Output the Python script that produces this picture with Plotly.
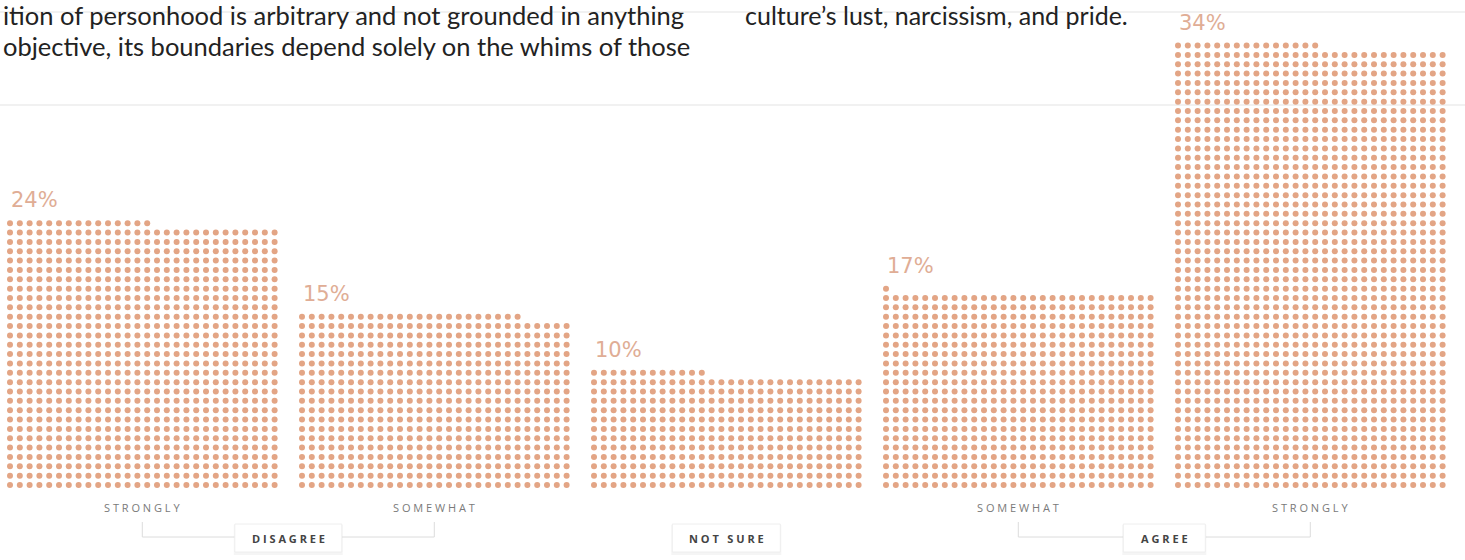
import plotly.graph_objects as go

# ---- data ----
categories = ["Strongly disagree", "Somewhat disagree", "Not sure", "Somewhat agree", "Strongly agree"]
percent_labels = ["24%", "15%", "10%", "17%", "34%"]
dot_counts = [799, 527, 348, 589, 1331]
sub_labels = ["STRONGLY", "SOMEWHAT", "", "SOMEWHAT", "STRONGLY"]
group_labels = ["DISAGREE", "NOT SURE", "AGREE"]
group_members = [[0, 1], [2], [3, 4]]
text_left = ["ition of personhood is arbitrary and not grounded in anything",
             "objective, its boundaries depend solely on the whims of those"]
text_right = ["culture\u2019s lust, narcissism, and pride."]

# ---- layout constants ----
W, H = 1465, 560
COLS = 28
BAR0, BAR_STEP = 10, 292
COL_DX, ROW_DY = 9.8, 9.35
BASE_Y = 485
DOT = "#e3a585"
LABEL = "#e0ad95"

fig = go.Figure()

bar_left = [BAR0 + i * BAR_STEP for i in range(len(categories))]
bar_center = [bl + (COLS - 1) * COL_DX / 2 for bl in bar_left]

for i, (cat, n) in enumerate(zip(categories, dot_counts)):
    xs, ys = [], []
    for k in range(n):
        r, c = divmod(k, COLS)
        xs.append(bar_left[i] + c * COL_DX)
        ys.append(BASE_Y - r * ROW_DY)
    fig.add_trace(go.Scatter(x=xs, y=ys, mode="markers", name=cat,
                             marker=dict(size=6, color=DOT, line=dict(width=0)),
                             hoverinfo="name", showlegend=False))
    top_y = BASE_Y - ((n - 1) // COLS) * ROW_DY
    fig.add_annotation(x=bar_left[i] - 1, y=top_y - 23, text=percent_labels[i],
                       showarrow=False, xanchor="left", yanchor="middle",
                       font=dict(family="DejaVu Sans", size=21, color=LABEL))
    if sub_labels[i]:
        fig.add_annotation(x=bar_center[i], y=507, text=" ".join(sub_labels[i]),
                           showarrow=False, xanchor="center", yanchor="middle",
                           font=dict(family="Open Sans", size=11, color="#7a7a7a"))

shapes = []
# faint horizontal rules
for gy in [12, 105]:
    shapes.append(dict(type="line", xref="x", yref="y", x0=0, x1=W, y0=gy, y1=gy,
                       line=dict(color="#f1f1f1", width=2), layer="below"))

BOX_Y0, BOX_Y1, BR_Y, TICK_Y = 524, 552, 537, 522
box_w = {"DISAGREE": 107, "NOT SURE": 108, "AGREE": 82}
for lab, mem in zip(group_labels, group_members):
    cx = (bar_center[mem[0]] + bar_center[mem[-1]]) / 2
    bw = box_w[lab]
    if len(mem) > 1:
        xa, xb = bar_center[mem[0]], bar_center[mem[-1]]
        for x0, x1 in [(xa, cx - bw / 2), (cx + bw / 2, xb)]:
            shapes.append(dict(type="line", xref="x", yref="y", x0=x0, x1=x1, y0=BR_Y, y1=BR_Y,
                               line=dict(color="#dcdcdc", width=1)))
        for xt in [xa, xb]:
            shapes.append(dict(type="line", xref="x", yref="y", x0=xt, x1=xt, y0=TICK_Y, y1=BR_Y,
                               line=dict(color="#dcdcdc", width=1)))
    shapes.append(dict(type="rect", xref="x", yref="y", x0=cx - bw / 2 - 1, x1=cx + bw / 2 + 1,
                       y0=BOX_Y0 + 1, y1=BOX_Y1 + 3, fillcolor="rgba(0,0,0,0.04)",
                       line=dict(width=0)))
    shapes.append(dict(type="rect", xref="x", yref="y", x0=cx - bw / 2, x1=cx + bw / 2,
                       y0=BOX_Y0, y1=BOX_Y1, fillcolor="white",
                       line=dict(color="#eeeeee", width=1)))
    fig.add_annotation(x=cx, y=(BOX_Y0 + BOX_Y1) / 2, text="<b>" + " ".join(lab) + "</b>",
                       showarrow=False, xanchor="center", yanchor="middle",
                       font=dict(family="Open Sans", size=11, color="#444444"))

for j, line in enumerate(text_left):
    fig.add_annotation(x=1, y=15 + j * 31, text=line, showarrow=False, xanchor="left",
                       yanchor="middle", font=dict(family="Lato", size=25.5, color="#222222"))
for j, line in enumerate(text_right):
    fig.add_annotation(x=743, y=15 + j * 31, text=line, showarrow=False, xanchor="left",
                       yanchor="middle", font=dict(family="Lato", size=25, color="#222222"))

fig.update_layout(
    width=W, height=H, margin=dict(l=0, r=0, t=0, b=0),
    paper_bgcolor="white", plot_bgcolor="white",
    xaxis=dict(range=[0, W], visible=False, fixedrange=True),
    yaxis=dict(range=[H, 0], visible=False, fixedrange=True),
    shapes=shapes, showlegend=False,
)
fig.write_html("out.html", config={"displayModeBar": False},
               post_script="document.body.style.margin='0';document.body.style.overflow='hidden';")
